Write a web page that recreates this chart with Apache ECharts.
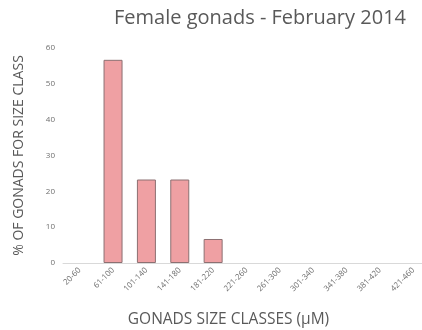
<!DOCTYPE html>
<html>
<head>
<meta charset="utf-8">
<script src="https://cdn.jsdelivr.net/npm/echarts@6/dist/echarts.min.js"></script>
<style>
  html, body { margin: 0; padding: 0; background: #fff; }
  #chart { width: 422px; height: 330px; }
</style>
</head>
<body>
<div id="chart"></div>
<script>
// Size classes of female gonads (µM) and the share of gonads in each class (%)
const sizeClasses = ['20-60', '61-100', '101-140', '141-180', '181-220', '221-260',
  '261-300', '301-340', '341-380', '381-420', '421-460'];
const percentValues = [0, 56.7, 23.3, 23.3, 6.7, 0, 0, 0, 0, 0, 0];
const yTicks = { min: 0, max: 60, interval: 10 };

// Empty classes get no bar outline at all
const barData = percentValues.map(v => (v > 0 ? v : '-'));

const chart = echarts.init(document.getElementById('chart'), null, { renderer: 'canvas' });
chart.setOption({
  animation: false,
  backgroundColor: '#ffffff',
  title: {
    text: 'Female gonads - February 2014',
    right: 11,
    top: 3,
    textStyle: { fontFamily: 'Open Sans', fontSize: 20, fontWeight: 'normal', color: '#595959' }
  },
  grid: { left: 63, top: 48, width: 367, height: 215, containLabel: false, outerBoundsMode: 'none' },
  xAxis: {
    type: 'category',
    data: sizeClasses,
    name: 'GONADS SIZE CLASSES (\u03BCM)',
    nameLocation: 'middle',
    nameGap: 49,
    nameTextStyle: {
      fontFamily: 'Open Sans', fontSize: 15.5, color: '#595959',
      padding: [0, 36, 0, 0]
    },
    axisLine: { lineStyle: { color: '#d9d9d9', width: 1 } },
    axisTick: { show: false },
    axisLabel: {
      rotate: 45, fontSize: 8, color: '#6e6e6e', fontFamily: 'Open Sans',
      interval: 0, margin: 6
    }
  },
  yAxis: {
    type: 'value',
    min: yTicks.min, max: yTicks.max, interval: yTicks.interval,
    name: '% OF GONADS FOR SIZE CLASS',
    nameLocation: 'middle',
    nameGap: 37,
    nameTextStyle: { fontFamily: 'Open Sans', fontSize: 14, color: '#595959' },
    axisLine: { show: false },
    axisTick: { show: false },
    splitLine: { show: false },
    axisLabel: { fontSize: 8, color: '#6e6e6e', fontFamily: 'Open Sans', margin: 8 }
  },
  series: [{
    type: 'bar',
    data: barData,
    barWidth: 19,
    itemStyle: { color: '#efa0a3', borderColor: '#8c7072', borderWidth: 1 }
  }]
});
</script>
</body>
</html>
